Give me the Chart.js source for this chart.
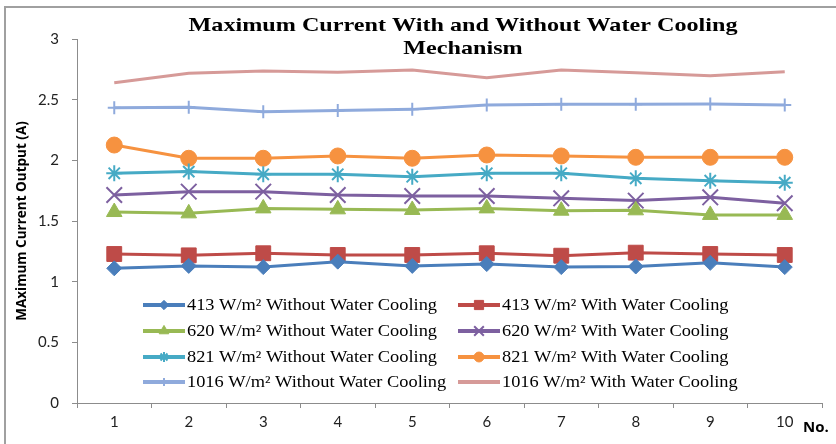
<!DOCTYPE html>
<html><head><meta charset="utf-8">
<script src="https://cdn.jsdelivr.net/npm/chart.js@4.4.0/dist/chart.umd.min.js"></script>
<style>
html,body{margin:0;padding:0;background:#fff;}
#wrap{position:relative;width:836px;height:444px;overflow:hidden;background:#fff;}
#frame{position:absolute;left:4px;top:6px;width:900px;height:500px;border-left:2px solid #a0a0a0;border-top:2px solid #a0a0a0;}
canvas{position:absolute;left:0;top:0;}
</style></head><body>
<div id="wrap"><div id="frame"></div><canvas id="c" width="836" height="444"></canvas></div>
<script>
// ---- data ----
const categories = ['1','2','3','4','5','6','7','8','9','10'];
const yTickLabels = ['0','0.5','1','1.5','2','2.5','3'];
const titleLines = ['Maximum Current With and Without Water Cooling', 'Mechanism'];
const yAxisTitle = 'MAximum Current Output (A)';
const xAxisTitle = 'No.';
const seriesLabels = [
  '413 W/m\u00B2 Without Water Cooling', '413 W/m\u00B2 With Water Cooling',
  '620 W/m\u00B2 Without Water Cooling', '620 W/m\u00B2 With Water Cooling',
  '821 W/m\u00B2 Without Water Cooling', '821 W/m\u00B2 With Water Cooling',
  '1016 W/m\u00B2 Without Water Cooling', '1016 W/m\u00B2 With Water Cooling'
];
const s413Without  = [1.11, 1.13, 1.12, 1.165, 1.13, 1.145, 1.12, 1.125, 1.155, 1.12];
const s413With     = [1.228, 1.217, 1.234, 1.22, 1.22, 1.234, 1.214, 1.239, 1.228, 1.22];
const s620Without  = [1.574, 1.563, 1.604, 1.596, 1.591, 1.604, 1.585, 1.588, 1.55, 1.55];
const s620With     = [1.714, 1.742, 1.742, 1.714, 1.706, 1.706, 1.687, 1.668, 1.695, 1.646];
const s821Without  = [1.893, 1.907, 1.885, 1.885, 1.865, 1.893, 1.893, 1.852, 1.832, 1.816];
const s821With     = [2.126, 2.017, 2.017, 2.036, 2.017, 2.044, 2.036, 2.025, 2.025, 2.025];
const s1016Without = [2.434, 2.437, 2.40, 2.41, 2.42, 2.456, 2.462, 2.462, 2.464, 2.456];
const s1016With    = [2.64, 2.717, 2.736, 2.726, 2.745, 2.681, 2.745, 2.722, 2.698, 2.731];

// ---- styles ----
const seriesData = [s413Without, s413With, s620Without, s620With, s821Without, s821With, s1016Without, s1016With];
const seriesColors = ['#4A7EBB','#BE4B48','#98B954','#7D60A0','#46AAC5','#F69240','#8FAADC','#D69A98'];
const seriesMarkers = ['rectRot','rect','triangle','crossRot','star','circle','cross','circle'];
const seriesRadius = [7.5, 10.5, 9, 11, 8, 8, 6.5, 0];
const seriesPtBorder = [1, 1, 1, 2, 2, 1, 2, 1];

const datasets = seriesData.map((d, i) => ({
  label: seriesLabels[i],
  data: d,
  borderColor: seriesColors[i],
  backgroundColor: seriesColors[i],
  pointBackgroundColor: seriesColors[i],
  pointBorderColor: seriesColors[i],
  pointStyle: seriesMarkers[i],
  pointRadius: seriesRadius[i],
  pointHoverRadius: seriesRadius[i],
  pointBorderWidth: seriesPtBorder[i],
  borderWidth: 3,
  tension: 0,
  fill: false
}));

function drawStretchedText(ctx, text, x, y, sx) {
  ctx.save();
  ctx.translate(x, y);
  ctx.scale(sx, 1);
  ctx.fillText(text, 0, 0);
  ctx.restore();
}

const overlay = {
  id: 'overlay',
  afterDraw(chart) {
    const ctx = chart.ctx;
    ctx.save();
    // title
    ctx.fillStyle = '#000';
    ctx.textAlign = 'center';
    ctx.textBaseline = 'alphabetic';
    ctx.font = 'bold 19px "Liberation Serif"';
    const tsx = 549 / ctx.measureText(titleLines[0]).width;
    drawStretchedText(ctx, titleLines[0], 463, 31, tsx);
    drawStretchedText(ctx, titleLines[1], 463, 54, tsx);

    // legend
    ctx.font = '16px "Liberation Serif"';
    const lsx = 250 / ctx.measureText(seriesLabels[0]).width;
    const colX = [143, 458];
    const rowY = [305, 331, 357, 382];
    chart.data.datasets.forEach((ds, i) => {
      const x0 = colX[i % 2];
      const y = rowY[Math.floor(i / 2)];
      ctx.strokeStyle = ds.borderColor;
      ctx.fillStyle = ds.borderColor;
      ctx.lineWidth = 4;
      ctx.beginPath();
      ctx.moveTo(x0, y);
      ctx.lineTo(x0 + 42, y);
      ctx.stroke();
      if (ds.pointRadius > 0) {
        ctx.lineWidth = ds.pointBorderWidth;
        Chart.helpers.drawPoint(ctx, {
          pointStyle: ds.pointStyle,
          radius: ds.pointRadius * 0.62,
          rotation: 0,
          borderWidth: ds.pointBorderWidth
        }, x0 + 21, y);
      }
      ctx.fillStyle = '#000';
      ctx.textAlign = 'left';
      ctx.textBaseline = 'middle';
      drawStretchedText(ctx, ds.label, x0 + 44, y + 1, lsx);
    });

    // x axis title
    ctx.fillStyle = '#000';
    ctx.font = 'bold 15px "Open Sans"';
    ctx.textAlign = 'center';
    ctx.textBaseline = 'middle';
    ctx.fillText(xAxisTitle, 816, 428);
    ctx.restore();
  }
};

new Chart(document.getElementById('c'), {
  type: 'line',
  data: { labels: categories, datasets },
  plugins: [overlay],
  options: {
    responsive: false,
    animation: false,
    events: [],
    layout: { padding: { top: 39, right: 14, left: 0, bottom: 0 } },
    plugins: { legend: { display: false }, title: { display: false }, tooltip: { enabled: false } },
    scales: {
      x: {
        type: 'category',
        offset: true,
        afterFit: s => { s.height = 41; },
        grid: { offset: true, drawOnChartArea: false, tickLength: 5, color: '#8c8c8c', lineWidth: 1 },
        border: { color: '#8c8c8c', width: 1 },
        ticks: { color: '#222', font: { family: 'Lato', size: 15 }, padding: 5, maxRotation: 0 }
      },
      y: {
        min: 0, max: 3,
        afterFit: s => { s.width = 77; },
        ticks: {
          stepSize: 0.5,
          color: '#222',
          font: { family: 'Lato', size: 15 },
          padding: 13,
          callback: (v, idx) => yTickLabels[idx]
        },
        grid: { drawOnChartArea: false, tickLength: 5, color: '#8c8c8c', lineWidth: 1 },
        border: { color: '#8c8c8c', width: 1 },
        title: {
          display: true,
          text: yAxisTitle,
          color: '#000',
          font: { family: 'Open Sans', size: 13.5, weight: 'bold' },
          padding: { top: 14, bottom: 0 }
        }
      }
    }
  }
});
</script>
</body></html>
